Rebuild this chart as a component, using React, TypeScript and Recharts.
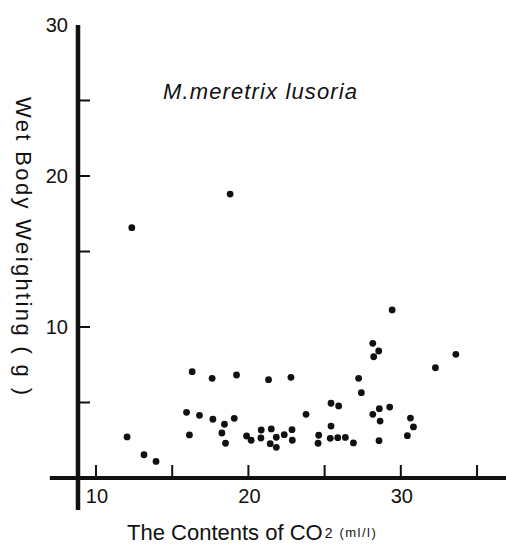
import React from "react";
import { ScatterChart, Scatter, XAxis, YAxis, ReferenceLine } from "recharts";

// CO2 content (x) and wet body weight (y) for each clam
const co2Content = [
  12.04, 12.35, 13.15, 13.94, 15.94, 16.13, 16.31, 16.79, 17.62, 17.67,
  18.26, 18.43, 18.5, 18.8, 19.07, 19.22, 19.88, 20.18, 20.84, 20.82,
  21.32, 21.5, 21.43, 21.83, 21.83, 22.35, 22.79, 22.86, 22.88, 23.78,
  24.61, 24.57, 25.42, 25.42, 25.37, 25.92, 25.86, 26.36, 26.89, 27.23,
  27.41, 28.16, 28.55, 28.22, 28.16, 28.59, 28.64, 28.57, 29.27, 29.43,
  30.63, 30.83, 30.43, 32.27, 33.61,
];
const wetWeight = [
  2.72, 16.58, 1.54, 1.1, 4.35, 2.85, 7.04, 4.15, 6.6, 3.89,
  2.98, 3.56, 2.3, 18.8, 3.95, 6.82, 2.78, 2.5, 3.18, 2.65,
  6.51, 3.25, 2.27, 2.7, 2.03, 2.87, 6.67, 3.2, 2.5, 4.22,
  2.83, 2.3, 4.95, 3.44, 2.63, 4.77, 2.67, 2.69, 2.32, 6.6,
  5.65, 8.92, 8.41, 8.03, 4.22, 4.59, 3.77, 2.47, 4.7, 11.13,
  3.97, 3.38, 2.8, 7.3, 8.19,
];

const xTicks = [10, 15, 20, 25, 30, 35];
const xLabels = [10, 20, 30];
const yTicks = [5, 10, 15, 20, 25, 30];
const yLabels = [10, 20, 30];

const font = "'Liberation Sans', Arial, sans-serif";
const ink = "#111";

// no scrollbars eating into the 506px window
document.documentElement.style.overflow = "hidden";
document.body.style.margin = "0";

const data = co2Content.map((c, i) => ({ co2: c, weight: wetWeight[i] }));

function XTick({ x, y, payload }: any) {
  return (
    <g>
      <line x1={x} x2={x} y1={y - 1} y2={y - 13} stroke={ink} strokeWidth={2} />
      {xLabels.includes(payload.value) && (
        <text x={x + 1} y={y + 25} textAnchor="middle" fontSize={20} fontFamily={font} fill={ink}>
          {payload.value}
        </text>
      )}
    </g>
  );
}

function YTick({ x, y, payload }: any) {
  return (
    <g>
      {payload.value < 30 && (
        <line x1={x + 1} x2={x + 12} y1={y} y2={y} stroke={ink} strokeWidth={2} />
      )}
      {yLabels.includes(payload.value) && (
        <text x={x - 10} y={y + 7} textAnchor="end" fontSize={20} fontFamily={font} fill={ink}>
          {payload.value}
        </text>
      )}
    </g>
  );
}

export default function App() {
  return (
    <div
      style={{
        position: "fixed",
        left: 0,
        top: 0,
        width: 506,
        height: 547,
        overflow: "hidden",
        background: "#fff",
      }}
    >
      <ScatterChart width={506} height={547} margin={{ top: 25, right: 0, bottom: 29, left: 18 }}>
        <XAxis
          type="number"
          dataKey="co2"
          domain={[8.82, 36.9]}
          allowDataOverflow
          ticks={xTicks}
          interval={0}
          axisLine={false}
          tickLine={false}
          tickSize={0}
          tickMargin={0}
          height={40}
          tick={<XTick />}
        />
        <YAxis
          type="number"
          dataKey="weight"
          domain={[0, 30]}
          allowDataOverflow
          ticks={yTicks}
          interval={0}
          axisLine={false}
          tickLine={false}
          tickSize={0}
          tickMargin={0}
          width={60}
          tick={<YTick />}
        />
        <ReferenceLine
          segment={[{ x: 6.97, y: 0 }, { x: 38, y: 0 }]}
          stroke={ink}
          strokeWidth={4}
          ifOverflow="visible"
        />
        <ReferenceLine
          segment={[{ x: 8.82, y: -2.12 }, { x: 8.82, y: 30 }]}
          stroke={ink}
          strokeWidth={4.5}
          ifOverflow="visible"
        />
        <Scatter
          data={data}
          isAnimationActive={false}
          shape={(p: any) => <circle cx={p.cx} cy={p.cy} r={3.4} fill={ink} />}
        />
      </ScatterChart>
      <svg
        width={506}
        height={547}
        style={{ position: "absolute", left: 0, top: 0, pointerEvents: "none" }}
      >
        <text x={163} y={99} fontSize={22} fontStyle="italic" fontFamily={font} fill={ink} textLength={194}>
          M.meretrix lusoria
        </text>
        <text
          x={23}
          y={246}
          transform="rotate(90, 23, 246)"
          textAnchor="middle"
          dominantBaseline="central"
          fontSize={22}
          fontFamily={font}
          fill={ink}
          textLength={298}
          lengthAdjust="spacing"
        >
          Wet Body Weighting ( g )
        </text>
        <text x={127} y={540} fontSize={22} fontFamily={font} fill={ink}>
          The Contents of CO
          <tspan fontSize={14} dx={2} dy={-2}>2</tspan>
          <tspan fontSize={13} dx={7} dy={-1} letterSpacing={1.5}>(ml/l)</tspan>
        </text>
      </svg>
    </div>
  );
}
